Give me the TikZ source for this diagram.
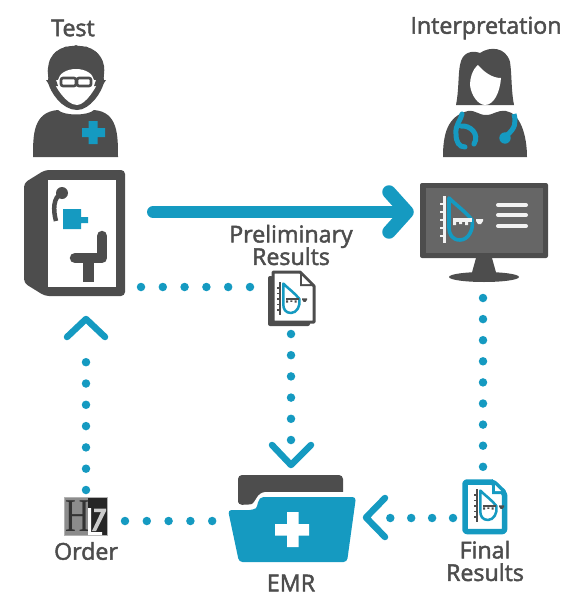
\documentclass[tikz,border=0pt]{standalone}
\usepackage{fontspec}
\setmainfont{Open Sans}[FakeBold=2]
\newfontfamily\logofont{Liberation Serif}
\definecolor{teal}{HTML}{159AC1}
\definecolor{dark}{HTML}{4D4D4D}
\definecolor{screen}{HTML}{666666}
\tikzset{
 label text/.style={text=dark,font=\fontsize{23.2}{24}\selectfont,inner sep=0pt,align=center},
 dots/.style={teal,line width=8.5pt,line cap=round,dash pattern=on 0pt off #1pt},
 chevron/.style={teal,line width=6.5pt,line cap=round,line join=round},
}
% ultrasound glyph: #1 ruler colour, #2 drop colour, #3 teeth colour, #4 scale
\newcommand{\usglyph}[4]{%
 \draw[#1,line width=#4*3pt] (-16,-24)--(-16,23);
 \foreach \t in {-16,-8,0,8,16}{\draw[#1,line width=#4*2.5pt] (-20,\t)--(-16,\t);}
 \draw[#2,line width=#4*3.6pt,line join=round] (-11,-22) .. controls (-4,-15) and (6,-8) .. (12,0)
   .. controls (14,10) and (8,20) .. (0,20) .. controls (-8,20) and (-11,14) .. (-11,8) -- cycle;
 \fill[#3] (-7,-2) rectangle (12,2);
 \fill[#3] (-7,2) rectangle (-4,5) (-1,2) rectangle (2,4) (5,2) rectangle (8,5);
 \fill[#3] (16,-1) -- (23,-1) -- (23,1) -- (21,4) -- (18,4) -- (16,1) -- cycle;
}
\begin{document}
\begin{tikzpicture}[x=1pt,y=-1pt]
\useasboundingbox (0,0) rectangle (573,605);
% labels
\node[label text] (ltest) at (73,28) {Test};
\node[label text] (linterp) at (486,28) {Interpretation};
\node[label text] (lprelim) at (291,245) {Preliminary\\[-1.5pt]Results};
\node[label text] (lorder) at (86,551) {Order};
\node[label text] (lemr) at (291,583) {EMR};
\node[label text] (lfinal) at (485,561) {Final\\[-1.5pt]Results};
% technician
\fill[dark] (76,46) .. controls (60,45) and (49,54) .. (48,68) .. controls (47,72) and (49,76) .. (48,82)
  .. controls (50,92) and (62,110) .. (77,110) .. controls (90,110) and (102,92) .. (104,82)
  .. controls (103,76) and (105,72) .. (104,66) .. controls (102,54) and (92,45) .. (76,46) -- cycle;
\foreach \a/\b in {57/54,66/49,76/47.5,86/49,95/54,100/61,52/61}{\fill[dark] (\a,\b) circle (2.4);}
\fill[white] (76,69) .. controls (66,69) and (59,74) .. (58,80) -- (53,80)
  .. controls (55,86) and (66,105) .. (77,105) .. controls (86,105) and (97,86) .. (99,80) -- (94,80)
  .. controls (93,74) and (86,69) .. (76,69) -- cycle;
\fill[dark] (46,80) -- (56,80) -- (58,86) -- (50,86) -- cycle;
\fill[dark] (106,80) -- (96,80) -- (94,86) -- (102,86) -- cycle;
\draw[dark,line width=2.6pt,rounded corners=2pt,fill=white] (61,78) rectangle (76,86);
\draw[dark,line width=2.6pt,rounded corners=2pt,fill=white] (77,78) rectangle (91,86);
\fill[dark] (33,157) .. controls (33,135) and (33,112) .. (58,110) .. controls (64,116) and (88,116) .. (94,110)
  .. controls (118,112) and (118,135) .. (118,157) -- cycle;
\fill[teal] (88.5,121) rectangle (97.5,144) (82,128) rectangle (105,137);
% physician
\fill[dark] (456,105) .. controls (459,90) and (458,75) .. (460,65) .. controls (462,52) and (472,50) .. (480,53)
  .. controls (490,46) and (506,47) .. (510,62) .. controls (512,75) and (511,90) .. (514,105) -- cycle;
\fill[white] (478,65) .. controls (472,70) and (470,78) .. (470,85) .. controls (471,95) and (478,105) .. (485,105)
  .. controls (494,105) and (500,92) .. (501,78) .. controls (492,78) and (484,72) .. (478,65) -- cycle;
\fill[dark] (443,157) .. controls (443,135) and (447,116) .. (468,111) .. controls (476,110) and (478,115) .. (486,115)
  .. controls (494,115) and (496,110) .. (506,111) .. controls (520,113) and (527,135) .. (527,157) -- cycle;
\draw[teal,line width=5pt,line cap=round] (462,114) .. controls (461,120) and (455,125) .. (456,134) .. controls (456,142) and (459,147) .. (465,147);
\draw[teal,line width=5pt,line cap=round] (461,126) .. controls (470,125) and (480,134) .. (474,144);
\draw[teal,line width=5pt] (514,114) .. controls (516,122) and (516,128) .. (506,136);
\fill[teal] (505,138) circle (5.7);
% machine
\node[inner sep=0pt,minimum width=101pt,minimum height=126pt] (machine) at (74.5,233) {};
\fill[dark,rounded corners=4pt] (24,183) -- (45,170) -- (125,170) -- (125,296) -- (45,296) -- (24,283) -- cycle;
\fill[white] (48,180) rectangle (116,287);
\draw[dark,line width=4.5pt] (62,193) .. controls (53,197) and (53,210) .. (56,221);
\fill[dark] (62,193) circle (6);
\fill[teal] (63,209) rectangle (81,229) (81,217) rectangle (88,223);
\draw[dark,line width=10.5pt,line cap=round,line join=round] (102,236) -- (102,258) -- (75,258);
\fill[dark] (83,258) rectangle (94,282);
% monitor
\fill[dark,rounded corners=2pt] (420,183) rectangle (548,258);
\fill[screen] (426,188) rectangle (543,253);
\fill[dark] (476,258) -- (492,258) -- (497,276) -- (471,276) -- cycle;
\fill[dark] (484,277) ellipse (35 and 5);
\node[inner sep=0pt,minimum width=128pt,minimum height=100pt] (monitor) at (484,232) {};
\draw[white!95!black,line width=4pt,line cap=round] (498,205) -- (526,205) (498,215) -- (526,215) (498,226) -- (526,226);
\begin{scope}[shift={(460,220)}]\usglyph{white!95!black}{teal}{white!95!black}{1}\end{scope}
% preliminary document
\fill[dark,rounded corners=2pt] (268,276) -- (268,326) -- (310,326) -- (310,320) -- (273,320) -- (273,276) -- cycle;
\draw[dark,line width=3pt,line join=round,fill=white] (273,272) -- (300,272) -- (314,286) -- (314,322) -- (273,322) -- cycle;
\fill[dark] (300,272) -- (300,286) -- (314,286) -- cycle;
\fill[white] (302,276) -- (302,284) -- (310,284) -- cycle;
\node[inner sep=0pt,minimum width=47pt,minimum height=56pt] (prelimdoc) at (291,298) {};
\begin{scope}[shift={(291,299)},scale=.7]\usglyph{dark}{teal}{dark}{.7}\end{scope}
% final document
\draw[teal,line width=5.5pt,line join=round,rounded corners=2pt,fill=white] (465,482) -- (493,482) -- (504.5,493) -- (504.5,531.5) -- (465,531.5) -- cycle;
\fill[teal] (492,479) -- (492,494) -- (507,494) -- cycle;
\fill[white] (495,485) -- (495,491) -- (501,491) -- cycle;
\node[inner sep=0pt,minimum width=45pt,minimum height=55pt] (finaldoc) at (484.5,506.5) {};
\begin{scope}[shift={(488,506)},scale=.7]\usglyph{dark}{teal}{dark}{.7}\end{scope}
% order logo
\fill[black!45] (64.5,497) rectangle (107.5,535.5);
\fill[black!85] (88,497.5) rectangle (107,535);
\draw[black!30,line width=.8pt] (64.5,497) rectangle (107.5,535.5);
\node[inner sep=0pt,text=black!80,font=\logofont\fontsize{47}{47}\selectfont,xscale=.72] (logoh) at (77.5,516) {H};
\fill[white] (88,508) -- (91,508) -- (91,532) -- (102,532) -- (102,535) -- (88,535) -- cycle;
\fill[black!20] (94,508.5) -- (106,508.5) -- (106,511) -- (96,531) -- (92,531) -- (101,512) -- (94,512) -- cycle;
\node[inner sep=0pt,minimum width=43pt,minimum height=38.5pt] (order) at (86,516) {};
% folder
\fill[dark,rounded corners=4pt] (238,505) -- (238,475) -- (343,475) -- (343,500) -- (238,505) -- cycle;
\fill[white] (234,505) -- (250,505) .. controls (256,504) and (256,492) .. (266,492) -- (350,492) -- (350,510) -- (234,512) -- cycle;
\fill[teal,rounded corners=3.5pt] (228,510) -- (253,510) .. controls (258,507) and (257,497) .. (267,497) -- (356,497) -- (347,562) -- (239,562) -- cycle;
\fill[white] (287,512) rectangle (298.5,547) (275,524) rectangle (309,535.5);
\node[inner sep=0pt,minimum width=128pt,minimum height=87pt] (emr) at (292,518.5) {};
% connectors
\coordinate (c1) at (153,212);
\coordinate (c2) at (405,212);
\draw[teal,line width=12pt,line cap=round] (c1) -- (c2);
\draw[teal,line width=13.5pt,line cap=round,line join=round] (389,192) -- (407,212) -- (389,232);
\coordinate (a1) at (141,287);
\coordinate (a2) at (251,287);
\draw[dots=21.8] (a1) -- (a2);
\coordinate (b1) at (291,334);
\coordinate (b2) at (291,440);
\draw[dots=21.2] (b1) -- (b2);
\draw[chevron] (272,445) -- (291,465) -- (311,445);
\coordinate (d1) at (86,490);
\coordinate (d2) at (86,341);
\draw[dots=21.3] (d1) -- (d2);
\draw[chevron] (67,337) -- (86,319) -- (105,337);
\coordinate (e1) at (125,521);
\coordinate (e2) at (213,521);
\draw[dots=21.8] (e1) -- (e2);
\coordinate (f1) at (483,298);
\coordinate (f2) at (483,467);
\draw[dots=21.1] (f1) -- (f2);
\coordinate (g1) at (453,518);
\coordinate (g2) at (390,518);
\draw[dots=20.9] (g1) -- (g2);
\draw[chevron] (385,498) -- (366,517.5) -- (385,537);
\end{tikzpicture}
\end{document}
